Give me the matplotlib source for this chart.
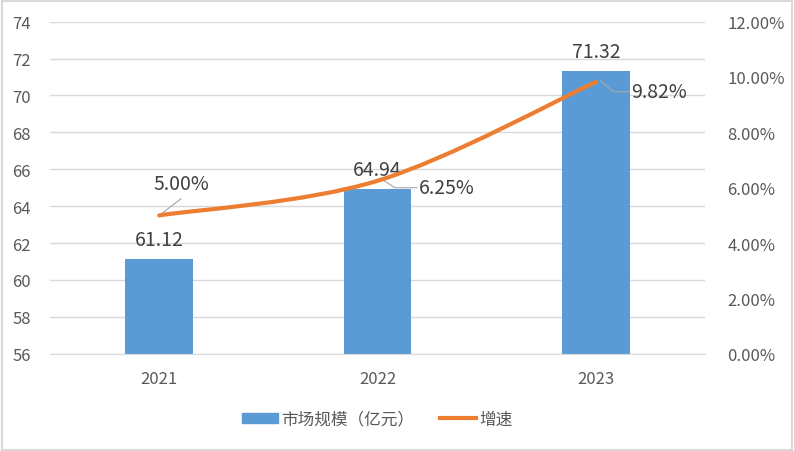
import numpy as np
import matplotlib
matplotlib.use('Agg')
import matplotlib.pyplot as plt
from matplotlib.path import Path
from matplotlib.patches import PathPatch, Patch
from matplotlib.lines import Line2D

plt.rcParams['font.family'] = ['Noto Sans CJK SC', 'DejaVu Sans']

years = ['2021', '2022', '2023']
market = [61.12, 64.94, 71.32]
growth = [5.00, 6.25, 9.82]

grey = '#595959'
blue = '#5b9bd5'
orange = '#ed7d31'

fig = plt.figure(figsize=(7.94, 4.52), dpi=100)
ax = fig.add_axes([0.063, 0.215, 0.825, 0.735])
ax2 = ax.twinx()

x = np.arange(len(years))
ax.bar(x, market, width=0.31, color=blue, zorder=2)
ax.set_ylim(56, 74)
ax.set_yticks(np.arange(56, 75, 2))
ax.set_xlim(-0.5, 2.5)
ax.set_xticks(x)
ax.set_xticklabels(years)
ax.grid(axis='y', color='#d9d9d9', lw=1, zorder=0)
ax.set_axisbelow(True)
for s in ['top', 'left', 'right']:
    ax.spines[s].set_visible(False)
    ax2.spines[s].set_visible(False)
ax.spines['bottom'].set_color('#d9d9d9')
ax2.spines['bottom'].set_visible(False)
ax.tick_params(axis='both', length=0, colors=grey, labelsize=12, pad=12)
ax.tick_params(axis='y', pad=14)

ax2.set_ylim(0, 12)
ax2.set_yticks(np.arange(0, 13, 2))
ax2.set_yticklabels([f'{v:.2f}%' for v in np.arange(0, 13, 2)])
ax2.tick_params(axis='y', length=0, colors=grey, labelsize=12, pad=16)

# smoothed line (Catmull-Rom -> Bezier)
pts = np.column_stack([x, growth]).astype(float)
ext = np.vstack([pts[0], pts, pts[-1]])
verts = [tuple(pts[0])]
codes = [Path.MOVETO]
for i in range(1, len(ext) - 2):
    p0, p1, p2, p3 = ext[i - 1], ext[i], ext[i + 1], ext[i + 2]
    c1 = p1 + (p2 - p0) / 6
    c2 = p2 - (p3 - p1) / 6
    verts += [tuple(c1), tuple(c2), tuple(p2)]
    codes += [Path.CURVE4] * 3
ax2.add_patch(PathPatch(Path(verts, codes), fill=False, ec=orange, lw=3,
                        capstyle='round', zorder=3))

for xi, v in zip(x, market):
    ax.text(xi, v + 0.5, f'{v:.2f}', ha='center', va='bottom',
            fontsize=14, color='#404040')

# growth labels with leader lines
offsets = [(-0.025, 1.14), (0.19, -0.25), (0.16, -0.35)]
for xi, g, (dx, dy) in zip(x, growth, offsets):
    lx, ly = xi + dx, g + dy
    ax2.text(lx, ly, f'{g:.2f}%', ha='left', va='center', fontsize=14, color='#404040')
    if xi == 0:
        ax2.plot([xi, xi + 0.1], [g, g + 0.6], color='#a6a6a6', lw=0.8)
    else:
        ax2.plot([xi + 0.02, xi + 0.08, lx - 0.01], [g + 0.05, ly, ly],
                 color='#a6a6a6', lw=0.8)

handles = [Patch(color=blue), Line2D([], [], color=orange, lw=3)]
fig.legend(handles, ['市场规模（亿元）', '增速'], loc='center',
           bbox_to_anchor=(0.475, 0.07), ncol=2, frameon=False, fontsize=12,
           labelcolor=grey, handlelength=2.2, handleheight=0.6,
           columnspacing=1.5, handletextpad=0.2)

fig.patches.append(plt.Rectangle((0.002, 0.003), 0.995, 0.993, transform=fig.transFigure,
                                 fill=False, ec='#d9d9d9', lw=1.5))
fig.savefig('out.png', dpi=100)
